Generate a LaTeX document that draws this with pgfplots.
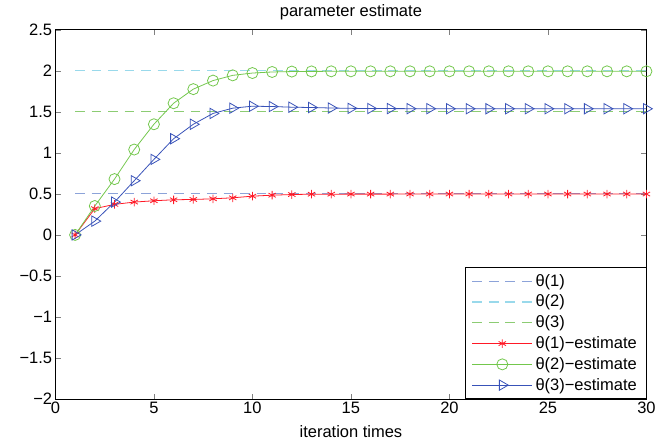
\documentclass[border=0pt]{standalone}
\usepackage{fontspec}
\setmainfont{Liberation Sans}
\usepackage{pgfplots}
\pgfplotsset{compat=1.18}

\definecolor{cRed}{rgb}{1,0.1,0.15}
\definecolor{cGreen}{rgb}{0.45,0.78,0.3}
\definecolor{cBlue}{rgb}{0.22,0.32,0.72}
\definecolor{dBlue}{rgb}{0.55,0.64,0.85}
\definecolor{dCyan}{rgb}{0.6,0.85,0.92}
\definecolor{dGreen}{rgb}{0.55,0.8,0.45}

\begin{document}
\begin{tikzpicture}
\begin{axis}[
  scale only axis, width=448pt, height=280pt,
  xmin=0, xmax=30, ymin=-2, ymax=2.5,
  xtick={0,5,...,30},
  ytick={-2,-1.5,-1,-0.5,0,0.5,1,1.5,2,2.5},
  yticklabels={−2,−1.5,−1,−0.5,0,0.5,1,1.5,2,2.5},
  /pgf/number format/assume math mode=true,
  tick align=inside, major tick length=4pt,
  tick label style={font=\fontsize{12.5}{14}\selectfont},
  yticklabel style={xshift=1pt},
  xticklabel style={yshift=1pt},
  title={parameter estimate}, title style={font=\fontsize{12.5}{14}\selectfont, yshift=-2pt},
  xlabel={iteration times}, xlabel style={font=\fontsize{12.5}{14}\selectfont, yshift=-2pt},
  axis line style={black, line width=0.7pt},
  legend style={at={(1,0)}, anchor=south east, draw=black, line width=0.6pt,
    font=\fontsize{12.5}{15.75}\selectfont, cells={anchor=west}, row sep=1.2pt,
    inner xsep=5pt, inner ysep=3pt},
  legend image code/.code={\draw[mark repeat=2,mark phase=2,#1] plot coordinates {(0cm,0cm)(0.8cm,0cm)(1.6cm,0cm)};},
]
\addplot[dBlue, line width=0.8pt, dash pattern=on 7.5pt off 5pt] coordinates {(1,0.5)(30,0.5)};
\addlegendentry{θ(1)}
\addplot[dCyan, line width=0.8pt, dash pattern=on 7.5pt off 5pt] coordinates {(1,2)(30,2)};
\addlegendentry{θ(2)}
\addplot[dGreen, line width=0.8pt, dash pattern=on 7.5pt off 5pt] coordinates {(1,1.5)(30,1.5)};
\addlegendentry{θ(3)}
\addplot[cRed, line width=0.6pt, mark=asterisk, mark size=3.2pt] coordinates {
(1,0)(2,0.32)(3,0.372)(4,0.40)(5,0.416)(6,0.428)(7,0.432)(8,0.44)(9,0.452)(10,0.472)
(11,0.484)(12,0.492)(13,0.496)(14,0.496)(15,0.497)(16,0.497)(17,0.497)(18,0.498)(19,0.498)(20,0.498)
(21,0.498)(22,0.498)(23,0.498)(24,0.498)(25,0.498)(26,0.498)(27,0.498)(28,0.498)(29,0.498)(30,0.498)};
\addlegendentry{θ(1)−estimate}
\addplot[cGreen, line width=0.6pt, mark=o, mark size=4.2pt] coordinates {
(1,0)(2,0.352)(3,0.68)(4,1.04)(5,1.348)(6,1.604)(7,1.776)(8,1.88)(9,1.944)(10,1.972)
(11,1.985)(12,1.99)(13,1.992)(14,1.993)(15,1.993)(16,1.993)(17,1.993)(18,1.993)(19,1.993)(20,1.993)
(21,1.993)(22,1.993)(23,1.993)(24,1.993)(25,1.993)(26,1.993)(27,1.993)(28,1.993)(29,1.993)(30,1.993)};
\addlegendentry{θ(2)−estimate}
\addplot[cBlue, line width=0.6pt, mark=triangle, mark size=4.5pt, mark options={rotate=-90}] coordinates {
(1,0)(2,0.168)(3,0.40)(4,0.66)(5,0.92)(6,1.172)(7,1.348)(8,1.48)(9,1.544)(10,1.568)
(11,1.564)(12,1.556)(13,1.552)(14,1.546)(15,1.542)(16,1.54)(17,1.539)(18,1.538)(19,1.538)(20,1.537)
(21,1.537)(22,1.537)(23,1.537)(24,1.537)(25,1.537)(26,1.537)(27,1.537)(28,1.537)(29,1.537)(30,1.537)};
\addlegendentry{θ(3)−estimate}
\end{axis}
\path ([xshift=-42pt]current axis.south west);
\end{tikzpicture}
\end{document}
